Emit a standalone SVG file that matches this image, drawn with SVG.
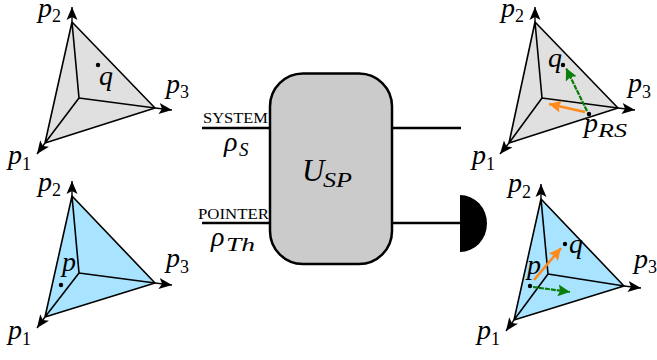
<svg xmlns="http://www.w3.org/2000/svg" width="657" height="360" viewBox="0 0 657 360">
<defs>
<marker id="ah" markerUnits="userSpaceOnUse" markerWidth="16" markerHeight="12" refX="13" refY="5.500" orient="auto" viewBox="0 0 16 11"><path d="M0 0L13 5.500L0 11L3 5.500Z" fill="#000"/></marker>
<marker id="og" markerUnits="userSpaceOnUse" markerWidth="15" markerHeight="13" refX="12" refY="6" orient="auto" viewBox="0 0 15 12"><path d="M0 0L12 6L0 12L2 6Z" fill="#ff8a1c"/></marker>
<marker id="gr" markerUnits="userSpaceOnUse" markerWidth="15" markerHeight="13" refX="12" refY="6" orient="auto" viewBox="0 0 15 12"><path d="M0 0L12 6L0 12L2 6Z" fill="#0a7d0a"/></marker>
</defs>
<style>
text{font-family:"Liberation Serif","Times New Roman",serif;fill:#000}
.m{font-style:italic;font-size:28px}
.s{font-style:italic;font-size:19px}
.d{font-size:18px}
.c{font-size:14px}
.e{stroke:#000;stroke-width:1.6;fill:none;stroke-linejoin:round}
.ax{stroke:#000;stroke-width:1.4;fill:none;marker-end:url(#ah)}
.g{fill:#e0e0e0}
.b{fill:#a8e4ff}
.w{stroke:#000;stroke-width:2.5;fill:none}
.o{stroke:#ff8a1c;stroke-width:2.6;fill:none;marker-end:url(#og)}
.n{stroke:#0a7d0a;stroke-width:2.2;stroke-dasharray:5 1;fill:none;marker-end:url(#gr)}
</style>
<g id="connectors">
<path class="w" d="M202 128H270M392 128H461M202 223H270M392 223H460"/>
</g>
<g id="unitary">
<rect x="270" y="73.500" width="122" height="190.500" rx="33" fill="#cbcbcb" stroke="#000" stroke-width="2.500"/>
<text x="302" y="181" style="font-style:italic;font-size:31px">U</text><text x="323" y="187" textLength="29" lengthAdjust="spacingAndGlyphs" style="font-style:italic;font-size:20px">SP</text>
</g>
<g id="detector"><path d="M460 195A27 28.500 0 0 1 460 252Z" fill="#000"/></g>
<g id="system-label">
<text class="c" x="203" y="123" textLength="65" lengthAdjust="spacingAndGlyphs">SYSTEM</text>
<text class="m" x="224" y="151">ρ</text><text class="s" x="239" y="156">S</text>
</g>
<g id="pointer-label">
<text class="c" x="198" y="219" textLength="71" lengthAdjust="spacingAndGlyphs">POINTER</text>
<text class="m" x="211" y="246">ρ</text><text class="s" x="226" y="251" textLength="29" lengthAdjust="spacingAndGlyphs">Th</text>
</g>
<g id="simplex-tl">
<path class="g" d="M72 22L155 108L45 143Z"/>
<path class="e" d="M72 22L155 108L45 143ZM72 22L79 98L155 108M79 98L45 143"/>
<path class="ax" d="M72 22V7"/><path class="ax" d="M155 108L172 110"/><path class="ax" d="M45 143L37 154"/>
<circle cx="98" cy="65" r="2.200"/>
<text class="m" x="99" y="85">q</text>
<text class="m" x="38" y="17">p</text><text class="d" x="52" y="22">2</text>
<text class="m" x="166" y="93">p</text><text class="d" x="180" y="98">3</text>
<text class="m" x="8" y="164">p</text><text class="d" x="22" y="170">1</text>
</g>
<g id="simplex-bl">
<path class="b" d="M72 196L155 283L45 317Z"/>
<path class="e" d="M72 196L155 283L45 317ZM72 196L79 273L155 283M79 273L45 317"/>
<path class="ax" d="M72 196V181"/><path class="ax" d="M155 283L172 285"/><path class="ax" d="M45 317L37 328"/>
<circle cx="61" cy="285" r="2.200"/>
<text class="m" x="62" y="271">p</text>
<text class="m" x="38" y="191">p</text><text class="d" x="52" y="196">2</text>
<text class="m" x="166" y="267">p</text><text class="d" x="180" y="273">3</text>
<text class="m" x="8" y="339">p</text><text class="d" x="22" y="345">1</text>
</g>
<g id="simplex-tr">
<path class="g" d="M535 22L618 108L509 143Z"/>
<path class="e" d="M535 22L618 108L509 143ZM535 22L542 98L618 108M542 98L509 143"/>
<path class="ax" d="M535 22V7"/><path class="ax" d="M618 108L635 110"/><path class="ax" d="M509 143L500 154"/>
<path class="o" d="M585 112L549 104"/>
<path class="n" d="M587 111L566 68"/>
<circle cx="563" cy="65" r="2.200"/>
<circle cx="589" cy="114" r="2.200"/>
<text class="m" x="548" y="67">q</text>
<text class="m" x="584" y="132">p</text><text class="s" x="598" y="137" textLength="29" lengthAdjust="spacingAndGlyphs">RS</text>
<text class="m" x="501" y="17">p</text><text class="d" x="515" y="22">2</text>
<text class="m" x="628" y="92">p</text><text class="d" x="642" y="98">3</text>
<text class="m" x="472" y="164">p</text><text class="d" x="486" y="170">1</text>
</g>
<g id="simplex-br">
<path class="b" d="M541 199L624 286L514 320Z"/>
<path class="e" d="M541 199L624 286L514 320ZM541 199L548 274L624 286M548 274L514 320"/>
<path class="ax" d="M541 199V184"/><path class="ax" d="M624 286L641 288"/><path class="ax" d="M514 320L506 331"/>
<path class="o" d="M534 280L561 248"/>
<path class="n" d="M533 287L570 292"/>
<circle cx="565" cy="244" r="2.200"/>
<circle cx="530" cy="286" r="2.200"/>
<text class="m" x="569" y="253">q</text>
<text class="m" x="527" y="274">p</text>
<text class="m" x="508" y="192">p</text><text class="d" x="522" y="198">2</text>
<text class="m" x="634" y="268">p</text><text class="d" x="648" y="273">3</text>
<text class="m" x="477" y="339">p</text><text class="d" x="491" y="345">1</text>
</g>
</svg>
